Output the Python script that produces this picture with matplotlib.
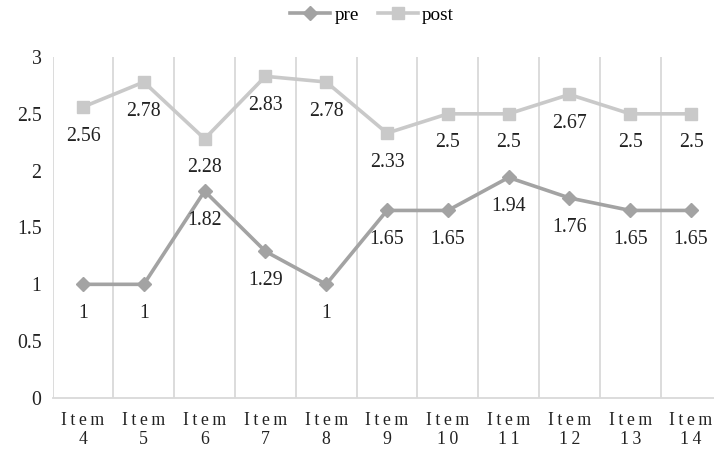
import matplotlib
matplotlib.use("Agg")
from matplotlib import pyplot as plt
from matplotlib.lines import Line2D

plt.rcParams['font.family'] = ['Liberation Serif', 'DejaVu Serif']

items = ["4", "5", "6", "7", "8", "9", "10", "11", "12", "13", "14"]
pre = [1, 1, 1.82, 1.29, 1, 1.65, 1.65, 1.94, 1.76, 1.65, 1.65]
post = [2.56, 2.78, 2.28, 2.83, 2.78, 2.33, 2.5, 2.5, 2.67, 2.5, 2.5]
yticks = [0, 0.5, 1, 1.5, 2, 2.5, 3]

pre_color = "#a3a3a3"
post_color = "#c9c9c9"
grid_color = "#d9d9d9"

fig = plt.figure(figsize=(7.14, 4.53), dpi=100)
ax = fig.add_axes([0.0737, 0.1214, 0.9367, 0.7528])

x = list(range(len(items)))

# category boundary lines
for b in range(len(items) + 1):
    ax.axvline(b - 0.5, color=grid_color, lw=1.3, zorder=0)

ax.plot(x, pre, color=pre_color, lw=2.6, marker="D", ms=7.5, zorder=3)
ax.plot(x, post, color=post_color, lw=2.6, marker="s", ms=8.5, zorder=3)

def fmt(v):
    return f"{v:g}"

for xi, v in zip(x, pre):
    ax.annotate(fmt(v), (xi, v), xytext=(0, -21), textcoords="offset points",
                ha="center", va="center", fontsize=14.3, color="#222222", zorder=4)
for xi, v in zip(x, post):
    ax.annotate(fmt(v), (xi, v), xytext=(0, -21), textcoords="offset points",
                ha="center", va="center", fontsize=14.3, color="#222222", zorder=4)

sp = "\u2009"
ax.set_xlim(-0.5, len(items) - 0.5)
ax.set_ylim(0, 3)
ax.set_yticks(yticks)
ax.set_yticklabels([fmt(t) for t in yticks], fontsize=14.3, color="#222222")
ax.set_xticks(x)
ax.set_xticklabels([sp.join("Item") + "\n" + sp.join(it) for it in items],
                   fontsize=12.8, color="#222222", linespacing=1.15)
ax.tick_params(axis="both", length=0)
ax.tick_params(axis="y", pad=8)
ax.tick_params(axis="x", pad=10)

for s in ["left", "right", "top"]:
    ax.spines[s].set_visible(False)
ax.spines["bottom"].set_color(grid_color)
ax.spines["bottom"].set_linewidth(1.3)

handles = [
    Line2D([], [], color=pre_color, lw=2.6, marker="D", ms=7.5),
    Line2D([], [], color=post_color, lw=2.6, marker="s", ms=8.5),
]
fig.legend(handles, ["pre", "post"], loc="center", bbox_to_anchor=(372 / 714, 1 - 15 / 453),
           ncol=2, frameon=False, fontsize=13.8, handlelength=2.1,
           handletextpad=0.2, columnspacing=1.0)

fig.savefig("out.png", dpi=100)
